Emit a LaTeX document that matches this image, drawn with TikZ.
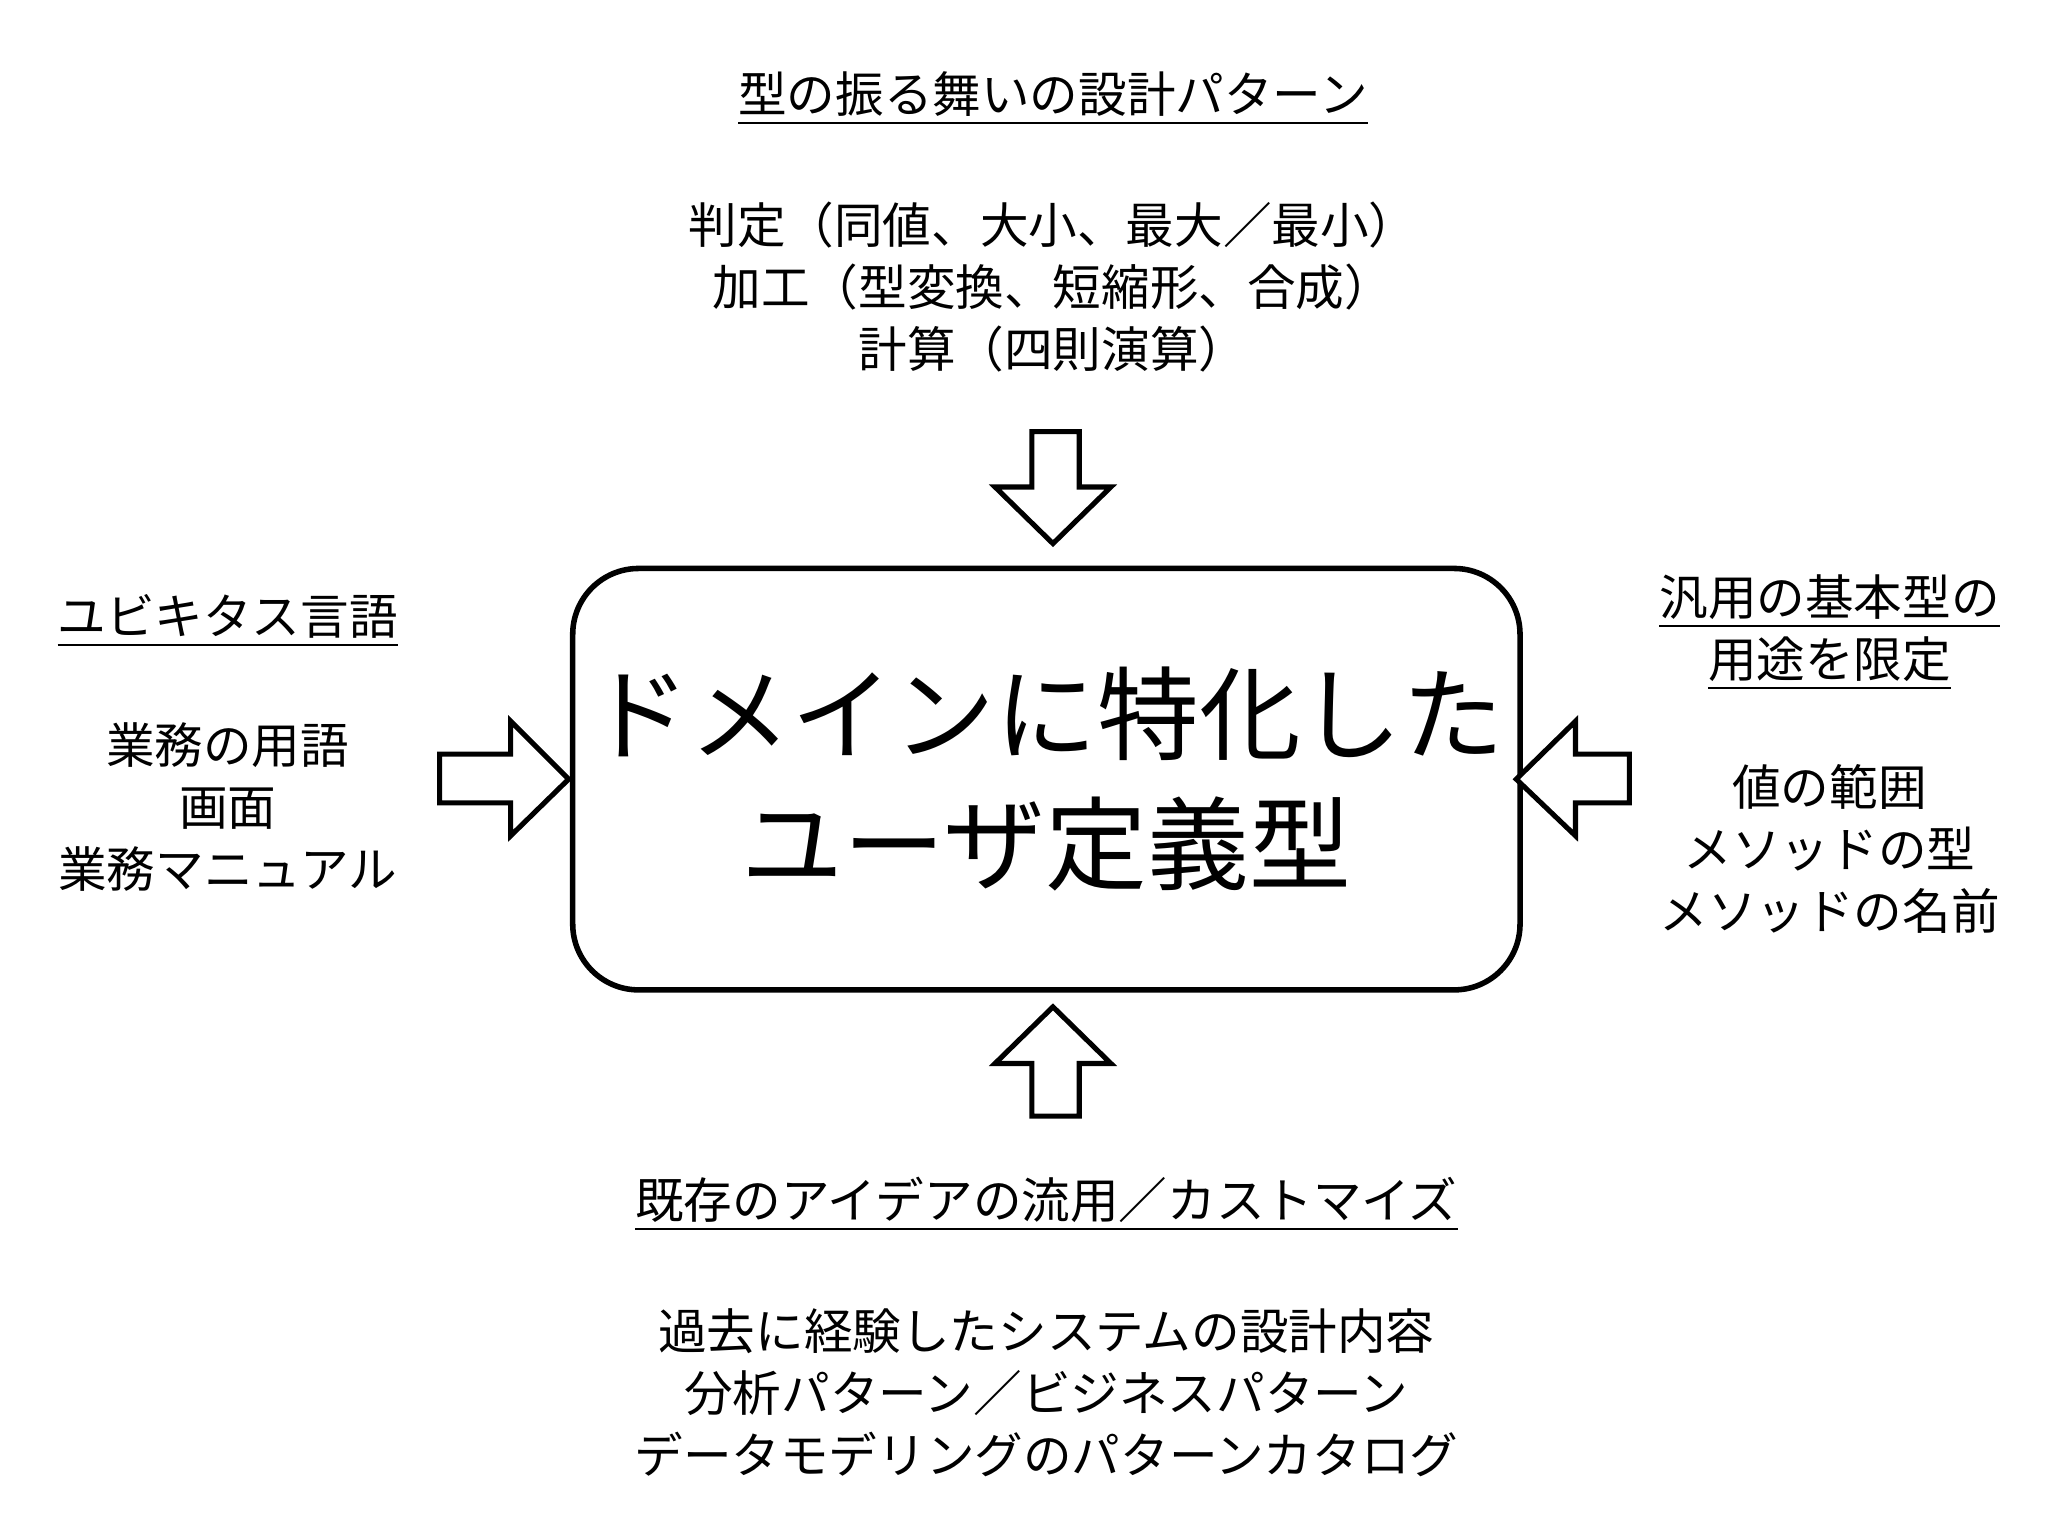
\documentclass[tikz,border=0pt]{standalone}
\usepackage{fontspec}
\setmainfont{Noto Sans CJK JP}
\begin{document}
\begin{tikzpicture}[x=0.01cm,y=-0.01cm,
  txt/.style={font=\fontsize{10.5pt}{13.4pt}\selectfont,align=center,inner sep=0},
  arr/.style={draw,line width=1.1pt,fill=white,line join=miter}]
\useasboundingbox (0,0) rectangle (1556,1167);
\node[draw,line width=1.2pt,rounded corners=0.5cm,minimum width=6.92cm,minimum height=3.2cm,
  font=\fontsize{22pt}{28pt}\selectfont,align=center] (main) at (795,592) {ドメインに特化した\\ユーザ定義型};
% top
\node[txt] (th) at (800,75) {\underline{型の振る舞いの設計パターン}};
\node[txt] (tb) at (800,218) {判定（同値、大小、最大／最小）\\加工（型変換、短縮形、合成）\\計算（四則演算）};
\draw[arr] (784,328) -- (820,328) -- (820,370) -- (844,370) -- (800,413) -- (756,370) -- (784,370) -- cycle;
% left
\node[txt] (lh) at (173,472) {\underline{ユビキタス言語}};
\node[txt] (lb) at (173,613) {業務の用語\\画面\\業務マニュアル};
\draw[arr] (334,573) -- (388,573) -- (388,548) -- (432,592) -- (388,635) -- (388,610) -- (334,610) -- cycle;
% right
\node[txt] (rh) at (1390,481) {\underline{汎用の基本型の}\\\underline{用途を限定}};
\node[txt] (rb) at (1390,645) {値の範囲\\メソッドの型\\メソッドの名前};
\draw[arr] (1238,573) -- (1197,573) -- (1197,548) -- (1152,592) -- (1197,635) -- (1197,610) -- (1238,610) -- cycle;
% bottom
\draw[arr] (784,848) -- (820,848) -- (820,808) -- (844,808) -- (800,765) -- (756,808) -- (784,808) -- cycle;
\node[txt] (bh) at (795,915) {\underline{既存のアイデアの流用／カストマイズ}};
\node[txt] (bb) at (795,1058) {過去に経験したシステムの設計内容\\分析パターン／ビジネスパターン\\データモデリングのパターンカタログ};
\end{tikzpicture}
\end{document}
